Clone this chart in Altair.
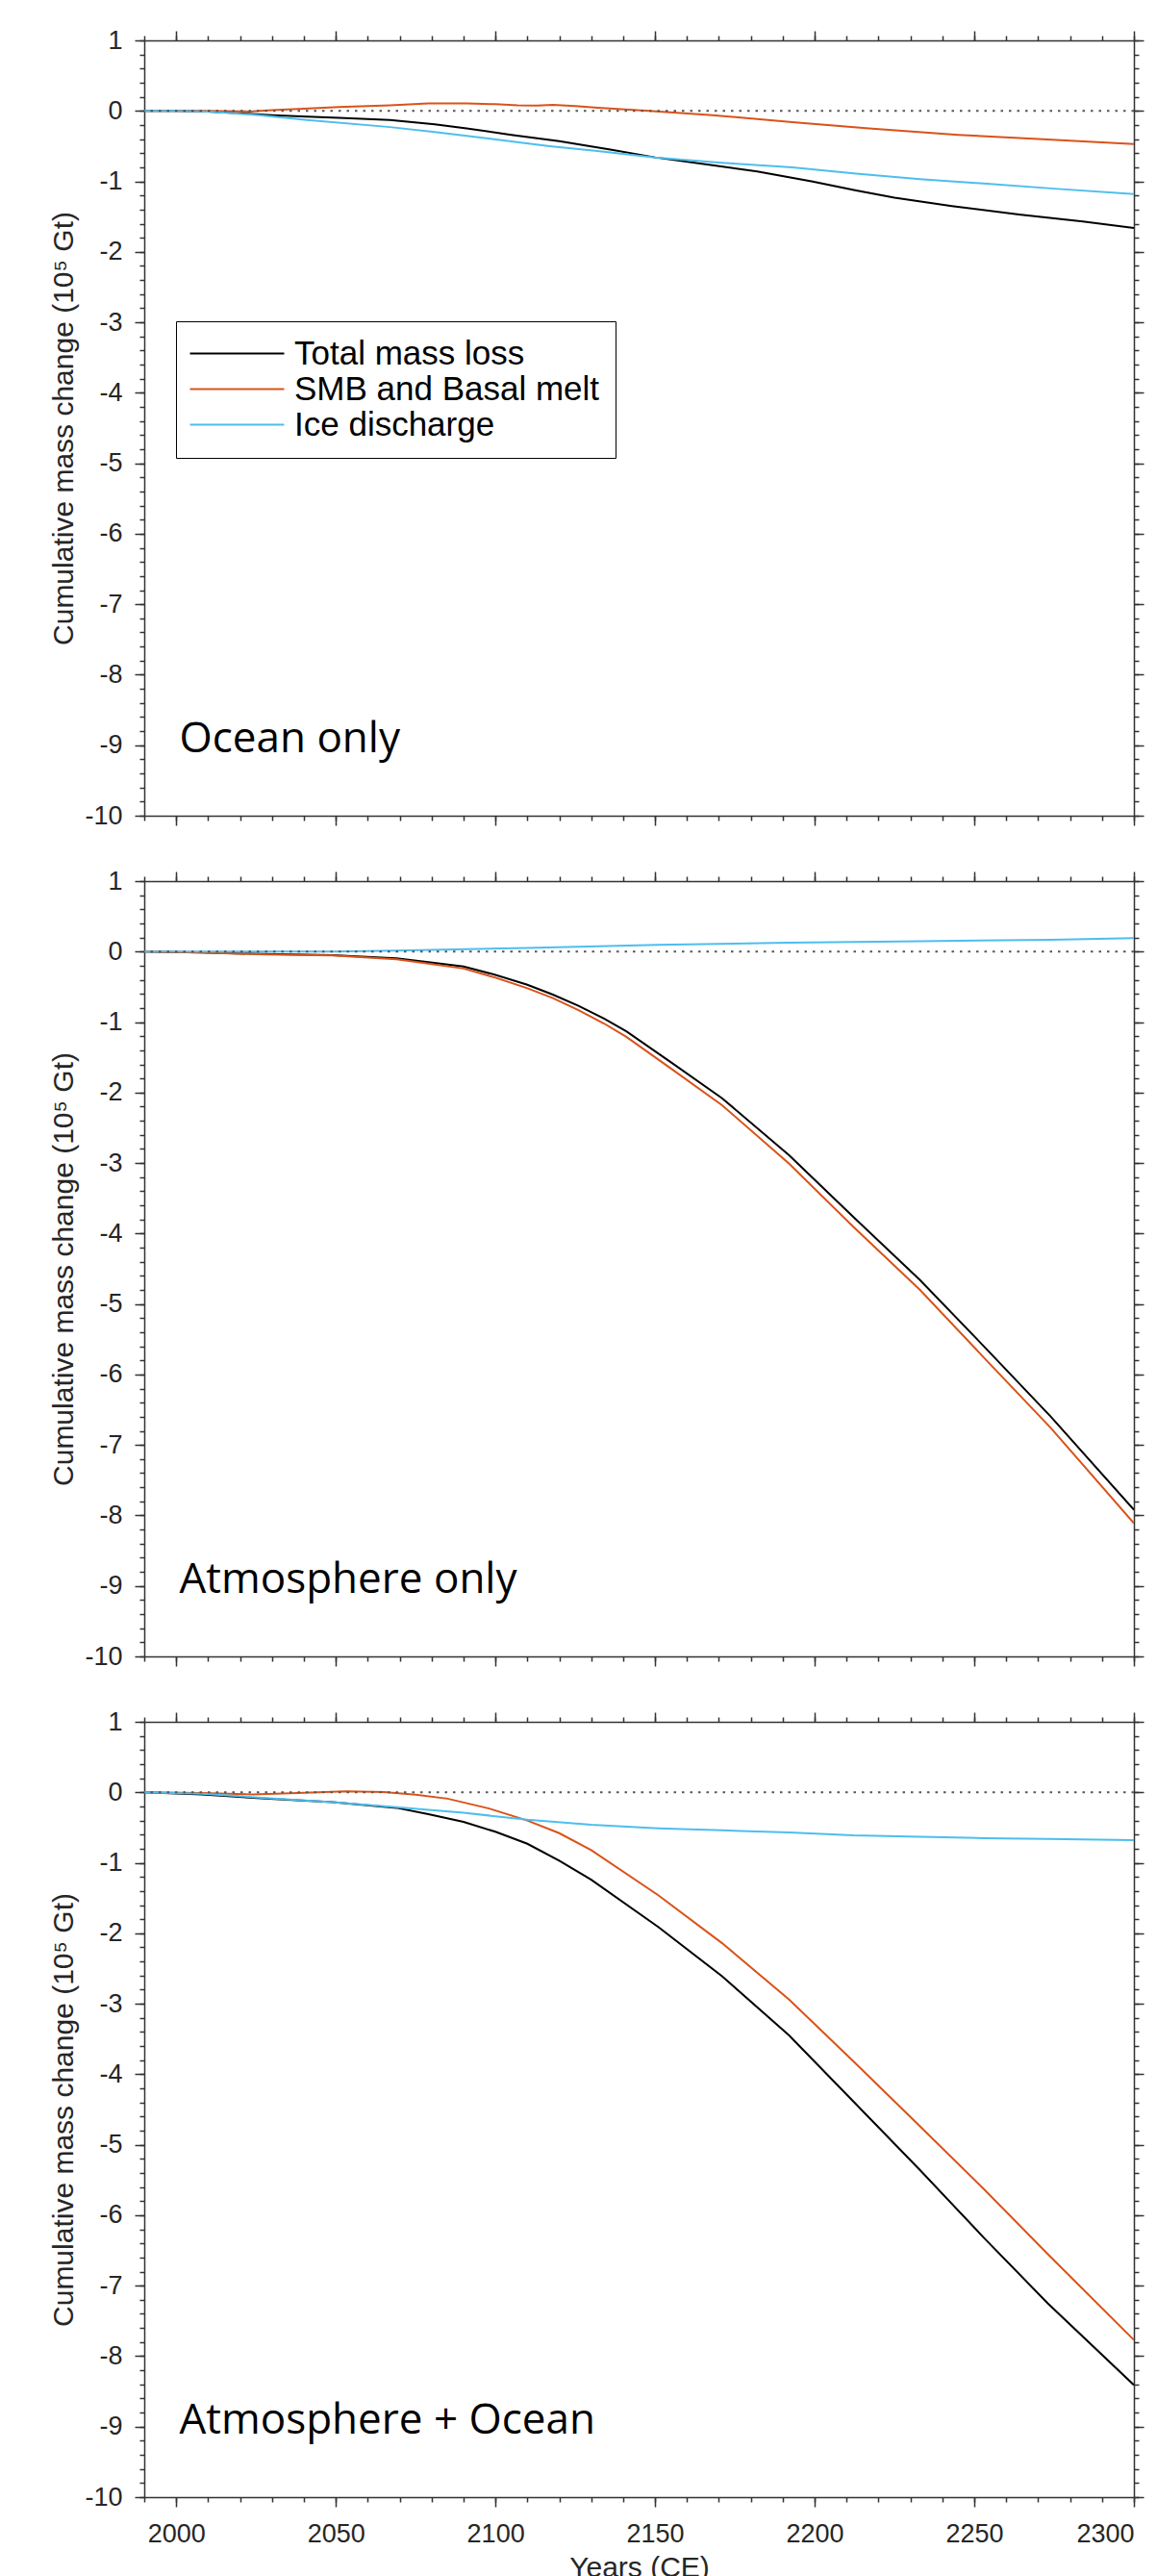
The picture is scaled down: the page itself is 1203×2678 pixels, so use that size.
import altair as alt
import pandas as pd

# ---------------- data (values in 10^5 Gt) ----------------
SERIES = ["Total mass loss", "SMB and Basal melt", "Ice discharge"]
COLORS = ["#000000", "#D95319", "#4DBEEE"]
PANEL_LABELS = ["Ocean only", "Atmosphere only", "Atmosphere + Ocean"]

# Panel 1: Ocean only
oc_total_yr = [1990, 2000, 2010, 2020, 2030, 2041, 2051, 2067, 2081, 2091, 2105, 2120, 2136, 2150, 2168, 2182, 2199, 2213, 2225, 2243, 2264, 2284, 2300]
oc_total = [0, 0, -0.01, -0.035, -0.06, -0.08, -0.10, -0.13, -0.19, -0.25, -0.34, -0.43, -0.55, -0.66, -0.77, -0.86, -1.00, -1.13, -1.23, -1.35, -1.47, -1.57, -1.66]
oc_smb_yr = [1990, 2000, 2010, 2020, 2023, 2030, 2040, 2051, 2067, 2079, 2091, 2100, 2107, 2113, 2118, 2125, 2132, 2148, 2168, 2193, 2217, 2245, 2270, 2300]
oc_smb = [0, 0, 0, -0.005, -0.01, 0.01, 0.03, 0.055, 0.08, 0.105, 0.105, 0.095, 0.08, 0.075, 0.085, 0.07, 0.045, 0.0, -0.06, -0.16, -0.25, -0.34, -0.40, -0.47]
oc_ice_yr = [1990, 2000, 2010, 2026, 2041, 2067, 2081, 2099, 2117, 2132, 2150, 2172, 2193, 2213, 2233, 2253, 2274, 2300]
oc_ice = [0, 0, -0.01, -0.06, -0.13, -0.23, -0.30, -0.40, -0.50, -0.57, -0.66, -0.74, -0.80, -0.89, -0.97, -1.03, -1.10, -1.18]

# Panel 2: Atmosphere only
at_yr = [1990, 2008, 2028, 2049, 2069, 2079, 2090, 2100, 2110, 2118, 2126, 2134, 2141, 2155, 2171, 2192, 2212, 2233, 2253, 2274, 2300]
at_total = [0, -0.015, -0.035, -0.05, -0.095, -0.15, -0.21, -0.33, -0.47, -0.61, -0.77, -0.95, -1.13, -1.57, -2.08, -2.89, -3.76, -4.66, -5.60, -6.60, -7.92]
at_smb = [0, -0.015, -0.04, -0.055, -0.11, -0.17, -0.24, -0.37, -0.52, -0.66, -0.83, -1.02, -1.21, -1.66, -2.18, -3.01, -3.90, -4.80, -5.76, -6.76, -8.11]
at_ice_yr = [1990, 2049, 2069, 2110, 2151, 2192, 2233, 2274, 2300]
at_ice = [0, 0, 0.015, 0.05, 0.095, 0.125, 0.146, 0.168, 0.19]

# Panel 3: Atmosphere + Ocean
ao_total_yr = [1990, 2008, 2028, 2049, 2069, 2079, 2090, 2100, 2110, 2120, 2130, 2151, 2171, 2192, 2212, 2233, 2253, 2273, 2300]
ao_total = [0, -0.03, -0.09, -0.14, -0.22, -0.31, -0.42, -0.56, -0.73, -0.97, -1.24, -1.91, -2.61, -3.45, -4.38, -5.36, -6.32, -7.25, -8.41]
ao_smb_yr = [1990, 2008, 2024, 2038, 2053, 2065, 2075, 2085, 2098, 2110, 2120, 2130, 2151, 2171, 2192, 2212, 2233, 2253, 2273, 2300]
ao_smb = [0, -0.01, -0.03, -0.01, 0.015, 0.005, -0.035, -0.09, -0.23, -0.40, -0.58, -0.82, -1.46, -2.14, -2.94, -3.81, -4.74, -5.63, -6.55, -7.77]
ao_ice_yr = [1990, 2008, 2028, 2049, 2069, 2090, 2110, 2130, 2151, 2171, 2192, 2212, 2233, 2253, 2273, 2300]
ao_ice = [0, -0.02, -0.08, -0.14, -0.21, -0.29, -0.39, -0.46, -0.51, -0.54, -0.57, -0.61, -0.63, -0.65, -0.66, -0.68]

MAJ_X = [2000, 2050, 2100, 2150, 2200, 2250, 2300]
MIN_X = list(range(1990, 2301, 10))
MAJ_Y = list(range(-10, 2))
MIN_Y = [round(-10 + 0.2 * i, 1) for i in range(56)]


def long_df(parts):
    rows = []
    for name, yrs, vals in parts:
        for yr, v in zip(yrs, vals):
            rows.append({"series": name, "year": yr, "value": v})
    return pd.DataFrame(rows)


panels_data = [
    long_df([(SERIES[0], oc_total_yr, oc_total), (SERIES[1], oc_smb_yr, oc_smb), (SERIES[2], oc_ice_yr, oc_ice)]),
    long_df([(SERIES[0], at_yr, at_total), (SERIES[1], at_yr, at_smb), (SERIES[2], at_ice_yr, at_ice)]),
    long_df([(SERIES[0], ao_total_yr, ao_total), (SERIES[1], ao_smb_yr, ao_smb), (SERIES[2], ao_ice_yr, ao_ice)]),
]

XS = alt.Scale(domain=[1990, 2300], nice=False, zero=False)
YS = alt.Scale(domain=[-10, 1], nice=False, zero=False)

AXC = "#333333"
BASE_AX = dict(grid=False, domainColor=AXC, domainWidth=1.5, tickColor=AXC, tickWidth=1.5,
               labelColor="#262626", labelFont="Liberation Sans", labelFontSize=27,
               titleFont="Liberation Sans", titleFontSize=30, titleColor="#262626",
               titleFontWeight="normal")

W, H = 1029, 806


def panel(i):
    df = panels_data[i]
    show_x = (i == 2)
    xkw = dict(orient="bottom", values=MAJ_X, tickSize=10, labels=show_x,
               labelExpr="toString(datum.value)", labelPadding=15, **BASE_AX)
    if show_x:
        xkw.update(title="Years (CE)", titlePadding=7)
    else:
        xkw.update(title=None)
    ckw = dict(scale=alt.Scale(domain=SERIES, range=COLORS))
    if i == 0:
        ckw["legend"] = alt.Legend(
            title=None, orient="none", legendX=33, legendY=292, direction="vertical",
            fillColor="white", strokeColor="black", padding=16,
            symbolType="M-3,0H3", symbolSize=1067, symbolStrokeWidth=2, symbolOffset=30,
            labelFont="Liberation Sans", labelFontSize=35, labelColor="black",
            labelOffset=42, rowPadding=1, labelLimit=600)
    else:
        ckw["legend"] = None

    lines = alt.Chart(df).mark_line(strokeWidth=2, clip=True).encode(
        x=alt.X("year:Q", scale=XS, axis=alt.Axis(**xkw)),
        y=alt.Y("value:Q", scale=YS, axis=alt.Axis(
            orient="left", values=MAJ_Y, tickSize=10, labelPadding=13,
            labelExpr="toString(datum.value)",
            title="Cumulative mass change (10\u2075 Gt)", titlePadding=6, **BASE_AX)),
        color=alt.Color("series:N", **ckw),
    )

    def ax_layer(xorient, yorient, xvals, yvals, size, domain):
        kw = dict(BASE_AX)
        return alt.Chart(df).mark_point(opacity=0).encode(
            x=alt.X("year:Q", scale=XS, axis=alt.Axis(orient=xorient, values=xvals, tickSize=size,
                                                       labels=False, domain=domain, title=None, **kw)),
            y=alt.Y("value:Q", scale=YS, axis=alt.Axis(orient=yorient, values=yvals, tickSize=size,
                                                        labels=False, domain=domain, title=None, **kw)),
        )

    tr = ax_layer("top", "right", MAJ_X, MAJ_Y, 10, True)
    bl_min = ax_layer("bottom", "left", MIN_X, MIN_Y, 5, False)
    tr_min = ax_layer("top", "right", MIN_X, MIN_Y, 5, False)

    zero = alt.Chart(pd.DataFrame({"zero": [0]})).mark_rule(
        color="#555555", strokeDash=[2.5, 6], strokeWidth=2).encode(
        y=alt.Y("zero:Q", scale=YS, axis=None))

    lab = alt.Chart(pd.DataFrame({"year": [2001.0], "value": [-9.1], "label": [PANEL_LABELS[i]]})).mark_text(
        align="left", baseline="alphabetic", font="Open Sans", fontSize=44, color="black").encode(
        x=alt.X("year:Q", scale=XS, axis=None),
        y=alt.Y("value:Q", scale=YS, axis=None),
        text="label:N")

    return alt.layer(lines, zero, lab, tr, bl_min, tr_min).resolve_axis(
        x="independent", y="independent").properties(width=W, height=H)


chart = alt.vconcat(panel(0), panel(1), panel(2), spacing=41).resolve_scale(
    color="independent").resolve_legend(color="independent").properties(
    padding={"left": 43, "top": 20, "right": 0, "bottom": 0}
).configure_view(strokeWidth=0)

chart.save("out.html", embed_options={"renderer": "svg", "actions": False})
